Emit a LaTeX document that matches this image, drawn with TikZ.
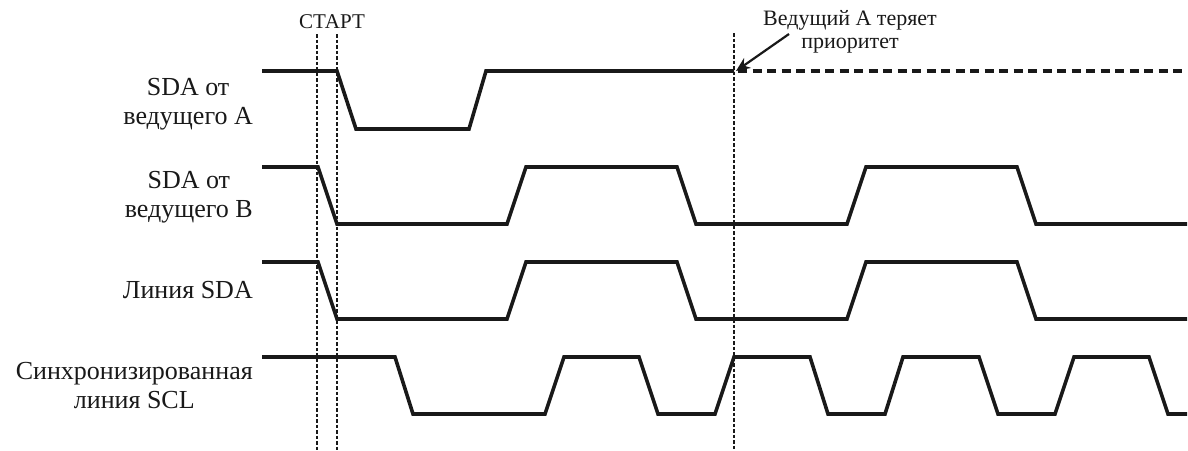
\documentclass[tikz,border=0pt]{standalone}
\usepackage{fontspec}
\setmainfont{Liberation Serif}
\usetikzlibrary{arrows.meta}
\begin{document}
\begin{tikzpicture}[x=1pt,y=-1pt,
  sig/.style={line width=3.6pt,line join=miter,black!90},
  guide/.style={line width=2pt,dash pattern=on 3.5pt off 2pt,black!90},
  lost/.style={line width=3.6pt,dash pattern=on 9pt off 5.5pt,black!90},
  lbl/.style={font=\fontsize{26}{29}\selectfont,align=center,inner sep=0pt,text=black!90},
  note/.style={font=\fontsize{22}{23}\selectfont,align=center,inner sep=0pt,text=black!90},
  pointer/.style={line width=2.2pt,black!90,-{Stealth[length=14pt,width=12pt]}}]
\useasboundingbox (0,0) rectangle (1188,450);
% guide lines
\draw[guide] (317,34) -- (317,450);
\draw[guide] (337,34) -- (337,450);
\draw[guide] (734,33) -- (734,450);
% labels
\node[lbl,anchor=east] (la) at (253,104.5) {SDA от\\ведущего A};
\node[lbl,anchor=east] (lb) at (253,197.5) {SDA от\\ведущего B};
\node[lbl,anchor=east] (ls) at (253,290) {Линия SDA};
\node[lbl,anchor=east] (lc) at (253,386) {Синхронизированная\\линия SCL};
\node[font=\fontsize{21}{24}\selectfont,inner sep=0pt,anchor=base,text=black!90] (start) at (332,28) {СТАРТ};
\node[note] (lose) at (850,32) {Ведущий A теряет\\приоритет};
% SDA from master A
\draw[sig] (262,71) -- (337,71) -- (356,129) -- (469,129) -- (486,71) -- (734,71);
\draw[lost] (738,71) -- (1187,71);
% SDA from master B
\draw[sig] (262,167) -- (318,167) -- (337,224) -- (507,224) -- (526,167) -- (677,167) -- (696,224) -- (847,224) -- (866,167) -- (1017,167) -- (1036,224) -- (1187,224);
% SDA line
\draw[sig] (262,262) -- (318,262) -- (337,319) -- (507,319) -- (526,262) -- (677,262) -- (696,319) -- (847,319) -- (866,262) -- (1017,262) -- (1036,319) -- (1187,319);
% SCL
\draw[sig] (262,357) -- (395,357) -- (413,414) -- (545,414) -- (564,357) -- (639,357) -- (658,414) -- (715,414) -- (734,357) -- (810,357) -- (828,414) -- (885,414) -- (903,357) -- (979,357) -- (998,414) -- (1055,414) -- (1074,357) -- (1149,357) -- (1168,414) -- (1187,414);
% pointer
\coordinate (ptail) at (789,34);
\coordinate (ptip) at (736,71);
\draw[pointer] (ptail) -- (ptip);
\end{tikzpicture}
\end{document}
